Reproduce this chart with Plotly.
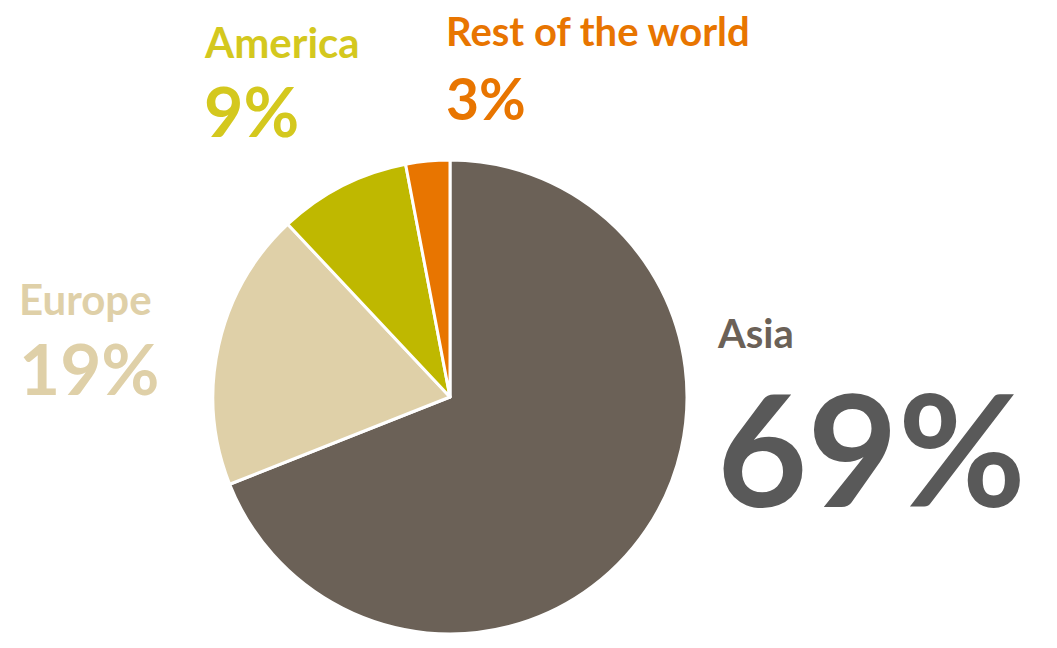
import plotly.graph_objects as go

regions = ["Asia", "Europe", "America", "Rest of the world"]
shares = [69, 19, 9, 3]
slice_colors = ["#6B6157", "#DFD0A8", "#BFB800", "#E87500"]
name_colors = ["#6B6157", "#DFD0A8", "#D4C81E", "#E87500"]
pct_colors = ["#595959", "#DFD0A8", "#D4C81E", "#E87500"]

W, H = 1057, 648
PAD = 8  # default body margin of the html page
FW, FH = W - 2 * PAD, H - 2 * PAD


def fx(px):
    return (px - PAD) / FW


def fy(py):
    return 1 - (py - PAD) / FH


fig = go.Figure()
fig.add_trace(go.Pie(
    labels=regions,
    values=shares,
    sort=False,
    direction="clockwise",
    rotation=0,
    marker=dict(colors=slice_colors, line=dict(color="white", width=3)),
    textinfo="none",
    hoverinfo="label+percent",
    showlegend=False,
    domain=dict(x=[fx(450 - 237), fx(450 + 237)], y=[fy(634), fy(160)]),
))

# label positions in pixels: (x left, name center y, pct center y, name size, pct size)
label_pos = [
    (715, 333, 446, 40, 156),
    (17, 299, 367, 42, 71),
    (202, 42, 111, 42, 68),
    (444, 31, 98, 40, 57),
]

for name, val, nc, pc, (px, ny, py, ns, ps) in zip(regions, shares, name_colors, pct_colors, label_pos):
    fig.add_annotation(x=fx(px), y=fy(ny), xref="paper", yref="paper",
                       xanchor="left", yanchor="middle", showarrow=False,
                       text=f"<b>{name}</b>", font=dict(family="Lato", size=ns, color=nc))
    fig.add_annotation(x=fx(px), y=fy(py), xref="paper", yref="paper",
                       xanchor="left", yanchor="middle", showarrow=False,
                       text=f"<b>{val}%</b>", font=dict(family="Lato", size=ps, color=pc))

fig.update_layout(
    width=FW, height=FH,
    margin=dict(l=0, r=0, t=0, b=0),
    paper_bgcolor="white",
    plot_bgcolor="white",
)

fig.write_html("out.html")
